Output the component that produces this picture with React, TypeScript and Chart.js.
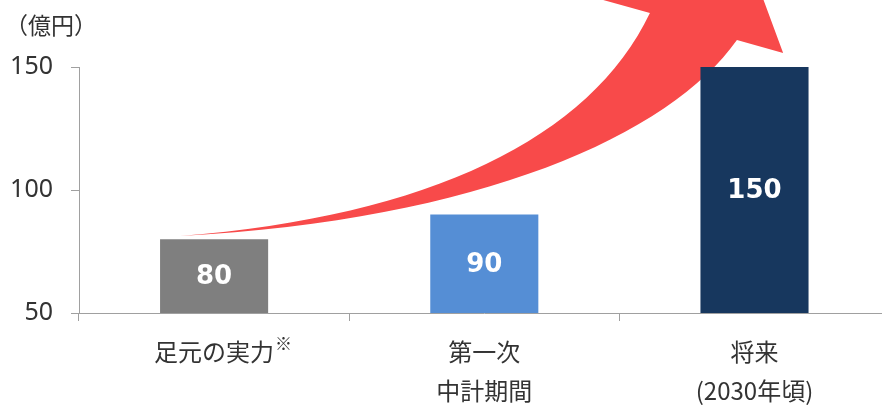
import React, { useEffect, useRef } from "react";
import { Chart, registerables } from "chart.js";

Chart.register(...registerables);

const categories: string[][] = [["足元の実力※"], ["第一次", "中計期間"], ["将来", "(2030年頃)"]];
const values: number[] = [80, 90, 150];
const barColors: string[] = ["#7f7f7f", "#558ed5", "#17375e"];
const yTicks: number[] = [50, 100, 150];
const unitLabel = "（億円）";
const NOTE_MARK = "※";

// decorative arrow outline in (category index, value) units: cubic curves + head
const arrowUpper: number[][] = [[-0.126, 81.3], [0.799, 89.4], [1.391, 121.1], [1.613, 172.0]];
const arrowHead: number[][] = [[1.428, 177.6], [1.902, 216.3], [2.106, 155.7], [1.935, 161.0]];
const arrowLower: number[][] = [[1.935, 161.0], [1.687, 122.4], [0.984, 87.8], [-0.126, 81.3]];

const CJK = '"Noto Sans CJK JP", "Noto Sans", sans-serif';

const arrowPlugin = {
  id: "arrowPlugin",
  beforeDatasetsDraw(chart: any) {
    const { ctx, scales } = chart;
    const xs = scales.x, ys = scales.y;
    const px = (p: number[]) => [xs.getPixelForValue(p[0]), ys.getPixelForValue(p[1])];
    const up = arrowUpper.map(px);
    const head = arrowHead.map(px);
    const low = arrowLower.map(px);
    ctx.save();
    ctx.fillStyle = "#f84a4a";
    ctx.beginPath();
    ctx.moveTo(up[0][0], up[0][1]);
    ctx.bezierCurveTo(up[1][0], up[1][1], up[2][0], up[2][1], up[3][0], up[3][1]);
    head.forEach((p) => ctx.lineTo(p[0], p[1]));
    ctx.bezierCurveTo(low[1][0], low[1][1], low[2][0], low[2][1], low[3][0], low[3][1]);
    ctx.closePath();
    ctx.fill();
    ctx.restore();
  },
  afterDatasetsDraw(chart: any) {
    const { ctx, chartArea } = chart;
    const meta = chart.getDatasetMeta(0);
    ctx.save();
    ctx.fillStyle = "#ffffff";
    ctx.font = 'bold 26px "DejaVu Sans", sans-serif';
    ctx.textAlign = "center";
    ctx.textBaseline = "middle";
    meta.data.forEach((bar: any, i: number) => {
      const bottom = Math.min(bar.base, chartArea.bottom);
      ctx.fillText(String(values[i]), bar.x, (bar.y + bottom) / 2 + 1);
    });
    ctx.restore();
  },
  afterDraw(chart: any) {
    const { ctx, scales } = chart;
    ctx.save();
    ctx.fillStyle = "#333333";
    ctx.font = "23px " + CJK;
    ctx.textAlign = "left";
    ctx.textBaseline = "middle";
    ctx.fillText(unitLabel, 5, 25);
    // superscript note marks on category labels
    categories.forEach((lines, i) => {
      const first = lines[0];
      if (!first.endsWith(NOTE_MARK)) return;
      const base = first.slice(0, -NOTE_MARK.length);
      ctx.font = "24px " + CJK;
      const w = ctx.measureText(base).width;
      const cx = scales.x.getPixelForValue(i);
      ctx.font = "17px " + CJK;
      ctx.fillText(NOTE_MARK, cx + w / 2 + 1, 344);
    });
    ctx.restore();
  },
};

export default function App() {
  const ref = useRef<HTMLCanvasElement | null>(null);
  useEffect(() => {
    if (!ref.current) return;
    const chart = new Chart(ref.current, {
      type: "bar",
      data: {
        labels: categories,
        datasets: [
          {
            data: values,
            backgroundColor: barColors,
            barPercentage: 0.4,
            categoryPercentage: 1,
          },
        ],
      },
      options: {
        animation: false,
        responsive: false,
        devicePixelRatio: 1,
        layout: { padding: { top: 67, right: 10.4, left: 0, bottom: 0 } },
        plugins: { legend: { display: false }, tooltip: { enabled: false } },
        scales: {
          x: {
            grid: { display: true, drawOnChartArea: false, color: "#a0a0a0", tickLength: 8, offset: true },
            border: { color: "#a0a0a0" },
            ticks: {
              color: "#333333",
              padding: 11.5,
              maxRotation: 0,
              autoSkip: false,
              font: { family: CJK, size: 24, lineHeight: 1.625 },
              callback: (_v: any, i: number) =>
                categories[i].map((s) => (s.endsWith(NOTE_MARK) ? s.slice(0, -NOTE_MARK.length) : s)),
            },
            afterFit: (s: any) => { s.height = 92; },
          },
          y: {
            min: 50,
            max: 150,
            afterBuildTicks: (s: any) => { s.ticks = yTicks.map((v) => ({ value: v })); },
            grid: { display: true, drawOnChartArea: false, color: "#a0a0a0", tickLength: 8 },
            border: { color: "#a0a0a0" },
            ticks: {
              color: "#333333",
              padding: 18,
              font: { family: '"Noto Sans", sans-serif', size: 25 },
            },
            afterFit: (s: any) => { s.width = 79; },
          },
        },
      },
      plugins: [arrowPlugin],
    });
    return () => chart.destroy();
  }, []);
  return (
    <div style={{ position: "fixed", left: 0, top: 0, width: 882, height: 405, overflow: "hidden", background: "#fff" }}>
      <canvas ref={ref} width={900} height={405} style={{ width: 900, height: 405, display: "block" }} />
    </div>
  );
}
